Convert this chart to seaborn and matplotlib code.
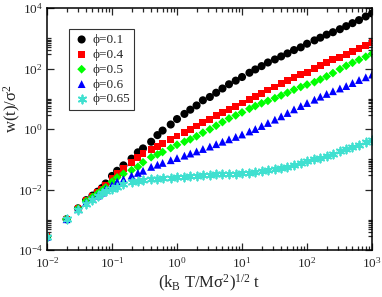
"""Mean square width w(t) versus reduced time for several packing fractions."""

import matplotlib.pyplot as plt
import matplotlib.ticker as mticker
import numpy as np
import pandas as pd
import seaborn as sns

# reduced time (k_B T / M sigma^2)^(1/2) t
time = [0.01, 0.02, 0.03, 0.04, 0.05, 0.06, 0.07, 0.08, 0.1, 0.12, 0.15, 0.2,
        0.25, 0.3, 0.4, 0.5, 0.6, 0.8, 1, 1.3, 1.6, 2, 2.5, 3.2, 4, 5, 6.3,
        8, 10, 13, 16, 20, 25, 32, 40, 50, 63, 80, 100, 130, 160, 200, 250,
        320, 400, 500, 630, 800, 1000]

# log10 of w(t)/sigma^2
logw_01 = [-3.56, -2.98, -2.62, -2.35, -2.20, -2.07, -1.95, -1.80, -1.55, -1.38,
           -1.20, -0.98, -0.77, -0.64, -0.42, -0.20, -0.05, 0.15, 0.33, 0.50,
           0.64, 0.78, 0.95, 1.06, 1.20, 1.34, 1.48, 1.60, 1.72, 1.86, 1.97,
           2.08, 2.20, 2.30, 2.40, 2.50, 2.61, 2.70, 2.82, 2.93, 3.02, 3.12,
           3.20, 3.30, 3.40, 3.50, 3.60, 3.72, 3.82]
logw_04 = [-3.56, -2.98, -2.62, -2.37, -2.22, -2.10, -2.00, -1.88, -1.63, -1.47,
           -1.30, -1.10, -0.95, -0.82, -0.68, -0.57, -0.49, -0.36, -0.23, -0.10,
           0.00, 0.10, 0.22, 0.33, 0.44, 0.55, 0.65, 0.76, 0.86, 0.98, 1.07,
           1.18, 1.29, 1.39, 1.50, 1.60, 1.70, 1.79, 1.88, 1.99, 2.10, 2.20,
           2.29, 2.38, 2.47, 2.57, 2.66, 2.75, 2.85]
logw_05 = [-3.56, -2.98, -2.63, -2.38, -2.25, -2.13, -2.03, -1.93, -1.74, -1.60,
           -1.48, -1.36, -1.25, -1.10, -0.93, -0.84, -0.76, -0.63, -0.52, -0.42,
           -0.34, -0.24, -0.12, -0.01, 0.11, 0.23, 0.35, 0.45, 0.55, 0.67, 0.76,
           0.85, 0.93, 1.02, 1.11, 1.20, 1.30, 1.39, 1.47, 1.55, 1.64, 1.74,
           1.85, 1.98, 2.09, 2.19, 2.29, 2.39, 2.49]
logw_06 = [-3.56, -2.98, -2.65, -2.42, -2.30, -2.20, -2.10, -1.98, -1.85, -1.74,
           -1.66, -1.54, -1.45, -1.38, -1.25, -1.18, -1.12, -1.03, -0.96, -0.88,
           -0.81, -0.74, -0.66, -0.58, -0.50, -0.42, -0.34, -0.26, -0.18, -0.08,
           0.00, 0.10, 0.20, 0.31, 0.42, 0.53, 0.65, 0.76, 0.86, 0.97, 1.07,
           1.16, 1.25, 1.34, 1.42, 1.52, 1.62, 1.71, 1.80]
logw_065 = [-3.56, -2.98, -2.68, -2.47, -2.35, -2.20, -2.10, -2.05, -1.98, -1.90,
            -1.83, -1.76, -1.71, -1.68, -1.66, -1.64, -1.63, -1.62, -1.60, -1.58,
            -1.56, -1.54, -1.53, -1.51, -1.50, -1.49, -1.48, -1.47, -1.46, -1.44,
            -1.42, -1.39, -1.36, -1.33, -1.29, -1.24, -1.19, -1.13, -1.07, -1.00,
            -0.95, -0.89, -0.82, -0.74, -0.66, -0.59, -0.52, -0.44, -0.36]

labels = ["\u03d5=0.1", "\u03d5=0.4", "\u03d5=0.5", "\u03d5=0.6", "\u03d5=0.65"]
colors = ["black", "#ff0000", "#00ff00", "#0000ff", "#40e0d0"]
markers = ["o", "s", "D", "^", (6, 2, 0)]
sizes = [34, 25, 20, 32, 34]

x_ticks = [1e-2, 1e-1, 1e0, 1e1, 1e2, 1e3]
x_ticklabels = [r"$\mathregular{10^{-2}}$", r"$\mathregular{10^{-1}}$",
                r"$\mathregular{10^{0}}$", r"$\mathregular{10^{1}}$",
                r"$\mathregular{10^{2}}$", r"$\mathregular{10^{3}}$"]
y_ticks = [1e-4, 1e-2, 1e0, 1e2, 1e4]
y_ticklabels = [r"$\mathregular{10^{-4}}$", r"$\mathregular{10^{-2}}$",
                r"$\mathregular{10^{0}}$", r"$\mathregular{10^{2}}$",
                r"$\mathregular{10^{4}}$"]

sns.set_style("ticks")
plt.rcParams["font.family"] = ["Liberation Serif", "DejaVu Serif"]
plt.rcParams["mathtext.fontset"] = "custom"
plt.rcParams["mathtext.rm"] = "Liberation Serif"
plt.rcParams["mathtext.it"] = "Liberation Serif:italic"

series = [logw_01, logw_04, logw_05, logw_06, logw_065]
df = pd.concat(
    [pd.DataFrame({"t": time, "w": 10 ** np.array(lw), "phi": lab})
     for lw, lab in zip(series, labels)],
    ignore_index=True,
)

fig, ax = plt.subplots(figsize=(3.82, 2.97), dpi=100)
fig.subplots_adjust(left=0.123, right=0.974, top=0.973, bottom=0.158)

for lab, col, mk, sz in zip(labels, colors, markers, sizes):
    sub = df[df["phi"] == lab]
    if isinstance(mk, tuple):
        sns.scatterplot(data=sub, x="t", y="w", ax=ax, marker=mk, s=sz,
                        color=col, edgecolor=col, linewidth=1.3, label=lab)
    else:
        sns.scatterplot(data=sub, x="t", y="w", ax=ax, marker=mk, s=sz,
                        color=col, edgecolor="none", linewidth=0, label=lab)

ax.set_xscale("log")
ax.set_yscale("log")
ax.set_xlim(1e-2, 1e3)
ax.set_ylim(1e-4, 1e4)

ax.set_xticks(x_ticks)
ax.set_xticklabels(x_ticklabels)
ax.xaxis.set_minor_locator(mticker.LogLocator(base=10, subs=np.arange(2, 10)))
ax.xaxis.set_minor_formatter(mticker.NullFormatter())

ax.set_yticks(y_ticks)
ax.set_yticklabels(y_ticklabels)
y_minor = [k * 10.0 ** e for e in (-4, -2, 0, 2) for k in range(3, 11)]
ax.yaxis.set_minor_locator(mticker.FixedLocator(y_minor))
ax.yaxis.set_minor_formatter(mticker.NullFormatter())

ax.tick_params(which="both", direction="in", top=True, right=True,
               labelsize=9.5, width=0.9, pad=3)
ax.tick_params(axis="x", which="major", pad=4)
ax.tick_params(which="major", length=5)
ax.tick_params(which="minor", length=3)
for sp in ax.spines.values():
    sp.set_linewidth(1.1)
    sp.set_color("black")

ax.set_xlabel(r"$\mathregular{(k_B\ T/M\sigma^2)^{1/2}\ t}$", fontsize=12,
              labelpad=2)
ax.set_ylabel(r"$\mathregular{w(t)/\sigma^2}$", fontsize=12)
ax.yaxis.set_label_coords(-0.075, 0.585)

leg = ax.legend(loc="upper left", bbox_to_anchor=(0.068, 0.913),
                borderaxespad=0, frameon=True, fancybox=False, fontsize=9.5,
                handletextpad=0.2, labelspacing=0.2, borderpad=0.35,
                handlelength=1.2)
leg.get_frame().set_edgecolor("black")
leg.get_frame().set_linewidth(0.8)

plt.savefig("out.png", dpi=100)
